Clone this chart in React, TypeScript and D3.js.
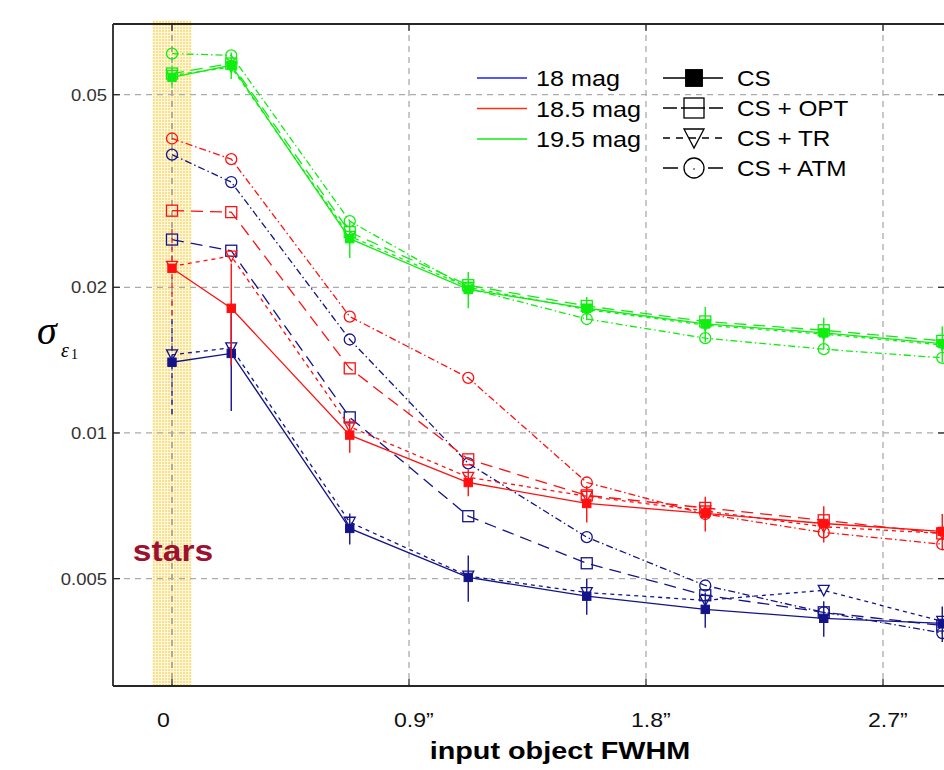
import React from "react";
import * as d3 from "d3";

// ---------- data ----------
const fwhm = [0, 0.225, 0.675, 1.125, 1.575, 2.025, 2.475, 2.925];
const xTicks = [0, 0.9, 1.8, 2.7];
const xTickLabels = ["0", "0.9\u201D", "1.8\u201D", "2.7\u201D"];
const yTicks = [0.005, 0.01, 0.02, 0.05];
const yTickLabels = ["0.005", "0.01", "0.02", "0.05"];

const magnitudes = ["18 mag", "18.5 mag", "19.5 mag"];
const methods = ["CS", "CS + OPT", "CS + TR", "CS + ATM"];

// 18 mag
const cs18 = [0.014, 0.0146, 0.00635, 0.00503, 0.0046, 0.00432, 0.00414, 0.00404];
const opt18 = [0.0251, 0.0238, 0.01077, 0.00673, 0.00538, 0.00462, 0.00426, 0.004];
const tr18 = [0.0145, 0.015, 0.00654, 0.00506, 0.00468, 0.00451, 0.00473, 0.00408];
const atm18 = [0.0376, 0.033, 0.0156, 0.00865, 0.00609, 0.00484, 0.00426, 0.00386];
const err18 = [0.0032, 0.0035, 0.00047, 0.00055, 0.00039, 0.00036, 0.00035, 0.00034];

// 18.5 mag
const cs185 = [0.0219, 0.0181, 0.0099, 0.0079, 0.00715, 0.00682, 0.0065, 0.00626];
const opt185 = [0.0288, 0.0286, 0.0136, 0.00882, 0.00743, 0.007, 0.0066, 0.0062];
const tr185 = [0.0221, 0.0232, 0.0103, 0.0081, 0.0074, 0.0069, 0.0064, 0.0062];
const atm185 = [0.0406, 0.0368, 0.0174, 0.013, 0.0079, 0.0068, 0.00623, 0.00589];
const err185 = [0.0045, 0.0043, 0.0008, 0.0005, 0.00062, 0.00056, 0.00056, 0.00054];

// 19.5 mag
const cs195 = [0.0543, 0.0575, 0.0252, 0.0198, 0.0181, 0.0168, 0.0161, 0.0153];
const opt195 = [0.0553, 0.058, 0.026, 0.0202, 0.0183, 0.017, 0.0163, 0.0155];
const tr195 = [0.0548, 0.057, 0.0255, 0.02, 0.018, 0.0167, 0.016, 0.0152];
const atm195 = [0.0608, 0.0603, 0.0274, 0.0199, 0.0172, 0.0157, 0.0149, 0.0143];
const err195 = [0.0032, 0.0036, 0.0022, 0.0017, 0.001, 0.0014, 0.0012, 0.0013];

// ---------- styling ----------
const W = 944, H = 770;
const L = 113, R = 946, T = 24, B = 686;
const dataColors = ["#14148a", "#ff1010", "#10ee10"];
const legendColors = ["#2020f0", "#ff3010", "#10ee10"];
const dashes = ["none", "12,7", "4,4", "7,3,1.5,3"];
const markerTypes = ["sqFilled", "sq", "tri", "circ"];
const FONT = "'Liberation Sans', Arial, Helvetica, sans-serif";

const x = d3.scaleLinear().domain([0, 2.7]).range([172, 883]);
const y = d3.scaleLog().domain([0.003, 0.07]).range([B, T]);

const groups = [
  { values: [cs18, opt18, tr18, atm18], err: err18 },
  { values: [cs185, opt185, tr185, atm185], err: err185 },
  { values: [cs195, opt195, tr195, atm195], err: err195 },
];

function Marker({ type, cx, cy, color, s }: any) {
  if (type === "sqFilled")
    return <rect x={cx - s * 0.42} y={cy - s * 0.42} width={s * 0.84} height={s * 0.84} fill={color} stroke={color} strokeWidth={1} />;
  if (type === "sq")
    return <rect x={cx - s / 2} y={cy - s / 2} width={s} height={s} fill="none" stroke={color} strokeWidth={1.3} />;
  if (type === "tri")
    return (
      <path
        d={`M${cx - s / 2},${cy - s * 0.45} L${cx + s / 2},${cy - s * 0.45} L${cx},${cy + s * 0.5} Z`}
        fill="none"
        stroke={color}
        strokeWidth={1.3}
      />
    );
  return <circle cx={cx} cy={cy} r={s / 2} fill="none" stroke={color} strokeWidth={1.3} />;
}

function SText({ x: tx, y: ty, sx = 1, anchor = "start", size, weight = "normal", fill = "#000", family = FONT, style, children }: any) {
  return (
    <text
      transform={`translate(${tx},${ty}) scale(${sx},1)`}
      textAnchor={anchor}
      fontSize={size}
      fontWeight={weight}
      fill={fill}
      fontFamily={family}
      fontStyle={style}
    >
      {children}
    </text>
  );
}

export default function App() {
  const line = d3
    .line<number>()
    .x((_, i) => x(fwhm[i]))
    .y((d) => y(d));

  const gridColor = "#ababab";

  return (
    <svg width={W} height={H} style={{ position: "absolute", left: 0, top: 0, background: "#fff" }}>
      <defs>
        <pattern id="starsPat" width={3} height={3} patternUnits="userSpaceOnUse">
          <rect width={3} height={3} fill="#fff8dc" />
          <rect width={2} height={2} fill="#fbe08c" />
        </pattern>
        <clipPath id="plotClip">
          <rect x={L} y={T - 10} width={R - L + 20} height={B - T + 20} />
        </clipPath>
      </defs>

      {/* stars band */}
      <rect x={x(-0.075)} y={T - 4} width={x(0.075) - x(-0.075)} height={B - T + 4} fill="url(#starsPat)" />

      {/* grid */}
      {xTicks.map((t) => (
        <line key={"gx" + t} x1={x(t)} x2={x(t)} y1={T} y2={B} stroke={t === 0 ? "#8a8a8a" : gridColor} strokeWidth={1.3} strokeDasharray="6,5" />
      ))}
      {yTicks.map((t) => (
        <line key={"gy" + t} x1={L} x2={R} y1={y(t)} y2={y(t)} stroke={gridColor} strokeWidth={1.3} strokeDasharray="6,5" />
      ))}

      {/* ticks */}
      {xTicks.map((t) => (
        <g key={"tx" + t}>
          <line x1={x(t)} x2={x(t)} y1={B} y2={B - 7} stroke="#222" strokeWidth={1.2} />
          <line x1={x(t)} x2={x(t)} y1={T} y2={T + 7} stroke="#222" strokeWidth={1.2} />
        </g>
      ))}
      {yTicks.map((t) => (
        <g key={"ty" + t}>
          <line x1={L} x2={L + 7} y1={y(t)} y2={y(t)} stroke="#222" strokeWidth={1.2} />
          <line x1={R - 8} x2={R} y1={y(t)} y2={y(t)} stroke="#222" strokeWidth={1.2} />
        </g>
      ))}

      {/* data */}
      <g clipPath="url(#plotClip)">
        {groups.map((g, gi) => (
          <g key={"g" + gi}>
            {/* error bars for CS */}
            {g.values[0].map((v, i) => (
              <line
                key={"e" + i}
                x1={x(fwhm[i])}
                x2={x(fwhm[i])}
                y1={y(v + g.err[i])}
                y2={y(Math.max(v - g.err[i], 0.0031))}
                stroke={dataColors[gi]}
                strokeWidth={i === 0 ? 1.2 : 1.4}
                strokeDasharray={i === 0 ? "5,4" : "none"}
              />
            ))}
            {g.values.map((vals, mi) => (
              <path
                key={"l" + mi}
                d={line(vals) || ""}
                fill="none"
                stroke={dataColors[gi]}
                strokeWidth={1.3}
                strokeDasharray={dashes[mi]}
              />
            ))}
            {g.values.map((vals, mi) =>
              vals.map((v, i) => (
                <Marker key={"m" + mi + "-" + i} type={markerTypes[mi]} cx={x(fwhm[i])} cy={y(v)} color={dataColors[gi]} s={mi === 0 ? 10 : 11} />
              ))
            )}
          </g>
        ))}
      </g>

      {/* frame */}
      <line x1={L} x2={L} y1={T} y2={B} stroke="#262626" strokeWidth={1.8} />
      <line x1={L} x2={R} y1={B} y2={B} stroke="#262626" strokeWidth={1.8} />
      <line x1={L} x2={R} y1={T} y2={T} stroke="#262626" strokeWidth={1.8} />

      {/* y tick labels */}
      {yTicks.map((t, i) => (
        <SText key={"yl" + t} x={107} y={y(t) + 6} anchor="end" size={16.5} sx={1.12} fill="#333">
          {yTickLabels[i]}
        </SText>
      ))}

      {/* x tick labels */}
      {xTicks.map((t, i) => (
        <SText key={"xl" + t} x={x(t) - 15} y={727} size={21} sx={1.1} fill="#111">
          {xTickLabels[i]}
        </SText>
      ))}

      {/* axis titles */}
      <SText x={560} y={759} anchor="middle" size={24} weight="bold" sx={1.2}>
        input object FWHM
      </SText>
      <text x={37} y={344} fontFamily="'Liberation Serif', 'DejaVu Serif', serif" fontStyle="italic" fontSize={40}>
        σ
      </text>
      <text x={61} y={357} fontFamily="'Liberation Serif', 'DejaVu Serif', serif" fontStyle="italic" fontSize={20}>
        ε
      </text>
      <text x={71} y={359} fontFamily="'Liberation Serif', 'DejaVu Serif', serif" fontSize={14}>
        1
      </text>

      {/* stars label */}
      <SText x={173} y={561} anchor="middle" size={30} weight="bold" sx={1.12} fill="#9e1030">
        stars
      </SText>

      {/* legend: magnitudes */}
      {magnitudes.map((m, i) => {
        const ly = 78 + i * 30.5;
        return (
          <g key={"lm" + i}>
            <line x1={477} x2={527} y1={ly} y2={ly} stroke={legendColors[i]} strokeWidth={1.6} />
            <SText x={536} y={ly + 8} size={22.5} sx={1.12}>
              {m}
            </SText>
          </g>
        );
      })}
      {/* legend: methods */}
      {methods.map((m, i) => {
        const ly = 78 + i * 30;
        return (
          <g key={"lt" + i}>
            <line x1={663} x2={723} y1={ly} y2={ly} stroke="#000" strokeWidth={1.5} strokeDasharray={i === 0 ? "none" : i === 1 ? "14,4,24,4" : i === 2 ? "7,6" : "15,30"} />
            <Marker type={markerTypes[i]} cx={694} cy={ly} color="#000" s={20} />
            {i === 3 && <circle cx={694} cy={ly + 1} r={0.8} fill="#000" />}
            <SText x={737} y={ly + 8} size={22.5} sx={1.08}>
              {m}
            </SText>
          </g>
        );
      })}
    </svg>
  );
}
